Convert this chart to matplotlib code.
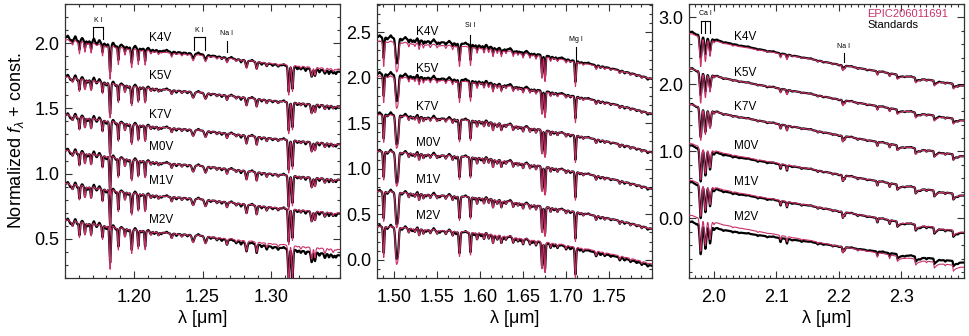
import numpy as np
import matplotlib
matplotlib.use("Agg")
import matplotlib.pyplot as plt
from matplotlib.ticker import MultipleLocator, FixedLocator

plt.rcParams['font.family'] = ['Liberation Sans', 'DejaVu Sans']
plt.rcParams['mathtext.fontset'] = 'custom'
plt.rcParams['mathtext.rm'] = 'Liberation Sans'
plt.rcParams['mathtext.it'] = 'Liberation Sans:italic'

SPT = ["K4V", "K5V", "K7V", "M0V", "M1V", "M2V"]
TARGET = "EPIC206011691"
STD_NAME = "Standards"
RED = "#c8306a"

# ---- J band ----
J_RANGE = (1.15, 1.35)
J_YLIM = (0.2, 2.3)
J_XTICKS = [1.20, 1.25, 1.30]
J_CONT_WL = [1.15, 1.175, 1.20, 1.225, 1.25, 1.275, 1.30, 1.325, 1.35]
J_CONT = [0.0, -0.04, -0.075, -0.10, -0.12, -0.15, -0.18, -0.205, -0.225]
J_LEVEL = [2.025, 1.74, 1.45, 1.178, 0.923, 0.643]
J_DIFF = [[0.02, 0.01, -0.02], [0.005, 0.0, 0.0], [0.0, 0.0, 0.0],
          [0.0, 0.0, 0.0], [0.0, 0.0, -0.005], [0.0, 0.0, -0.045]]
J_LINE_WL = [1.1555, 1.1605, 1.1645, 1.1690, 1.1773, 1.1828, 1.1888, 1.1936, 1.1985,
             1.2033, 1.2083, 1.2125, 1.2180, 1.2276, 1.2350, 1.2432, 1.2522, 1.2605,
             1.2678, 1.2745, 1.2820, 1.2894, 1.2967, 1.3050, 1.3127, 1.3154, 1.3215,
             1.3294, 1.3318, 1.3390, 1.3450]
J_LINE_DEPTH = [0.03, 0.09, 0.07, 0.07, 0.08, 0.25, 0.13, 0.05, 0.14,
                0.11, 0.11, 0.02, 0.02, 0.03, 0.015, 0.045, 0.045, 0.015,
                0.035, 0.015, 0.06, 0.06, 0.025, 0.015, 0.23, 0.20, 0.015,
                0.07, 0.06, 0.03, 0.02]
J_LINE_SIG = [0.0005, 0.0004, 0.0004, 0.0004, 0.0004, 0.0005, 0.0004, 0.0004, 0.0005,
              0.0004, 0.0004, 0.0005, 0.0005, 0.0005, 0.0005, 0.0008, 0.0008, 0.0005,
              0.0005, 0.0005, 0.0006, 0.0005, 0.0005, 0.0005, 0.0005, 0.0005, 0.0005,
              0.0006, 0.0005, 0.0006, 0.0006]
J_TEX_WL = [1.1520, 1.1540, 1.1575, 1.1590, 1.1625, 1.1665, 1.1710, 1.1730, 1.1750,
            1.1800, 1.1850, 1.1870, 1.1910, 1.1960, 1.2010, 1.2055, 1.2105, 1.2150,
            1.2200, 1.2240, 1.2310, 1.2390, 1.2470, 1.2560, 1.2640, 1.2710, 1.2780,
            1.2860, 1.2930, 1.3010, 1.3090, 1.3190, 1.3250, 1.3350, 1.3420, 1.3470]
J_TEX_DEPTH = [-0.015, 0.02, -0.02, 0.015, -0.015, 0.02, -0.025, 0.015, -0.02,
               0.02, -0.015, 0.015, -0.01, 0.015, -0.015, 0.012, -0.01, 0.015,
               0.012, -0.01, 0.015, 0.012, -0.01, 0.012, 0.015, -0.01, 0.02,
               -0.01, 0.015, 0.012, -0.01, 0.015, 0.02, 0.02, 0.025, 0.02]
J_RED_SCALE = [1.0, 1.05, 1.1, 1.15, 1.2, 1.3]
J_STD_SCALE = [0.85, 0.9, 0.9, 0.9, 0.9, 0.85]
J_LABEL_X = 1.211
J_LABEL_Y = [2.038, 1.745, 1.452, 1.204, 0.941, 0.648]

# ---- H band ----
H_RANGE = (1.48, 1.80)
H_YLIM = (-0.2, 2.81)
H_XTICKS = [1.50, 1.55, 1.60, 1.65, 1.70, 1.75]
H_CONT_WL = [1.48, 1.50, 1.52, 1.54, 1.56, 1.58, 1.60, 1.62, 1.64,
             1.66, 1.68, 1.70, 1.72, 1.74, 1.76, 1.78, 1.80]
H_CONT = [0.0, -0.005, -0.02, -0.035, -0.045, -0.055, -0.07, -0.09, -0.115,
          -0.145, -0.175, -0.205, -0.24, -0.275, -0.315, -0.36, -0.41]
H_LEVEL = [2.397, 2.013, 1.59, 1.189, 0.749, 0.364]
H_DIFF = [[0.05, 0.02, 0.0], [0.03, 0.01, 0.0], [0.01, 0.0, 0.0],
          [0.0, 0.0, 0.0], [0.0, 0.0, 0.0], [0.0, -0.01, -0.02]]
H_LINE_WL = [1.4878, 1.5025, 1.5045, 1.5170, 1.5240, 1.5290, 1.5340, 1.5420, 1.5500,
             1.5600, 1.5680, 1.5760, 1.5888, 1.5965, 1.6045, 1.6100, 1.6150, 1.6200,
             1.6247, 1.6300, 1.6385, 1.6440, 1.6500, 1.6580, 1.6650, 1.6720, 1.6755,
             1.6820, 1.6900, 1.7000, 1.7109, 1.7200, 1.7350, 1.7450, 1.7625, 1.7750,
             1.7880]
H_LINE_DEPTH = [0.27, 0.30, 0.22, 0.04, 0.03, 0.06, 0.04, 0.03, 0.03,
                0.03, 0.04, 0.22, 0.20, 0.06, 0.05, 0.04, 0.08, 0.04,
                0.07, 0.03, 0.05, 0.03, 0.05, 0.04, 0.04, 0.24, 0.27,
                0.04, 0.03, 0.03, 0.27, 0.02, 0.04, 0.02, 0.03, 0.02,
                0.02]
H_LINE_SIG = [0.0007, 0.0011, 0.0009, 0.0007, 0.0007, 0.0007, 0.0007, 0.0007, 0.0007,
              0.0007, 0.0007, 0.0008, 0.0007, 0.0007, 0.0007, 0.0007, 0.0007, 0.0007,
              0.0007, 0.0007, 0.0007, 0.0007, 0.0007, 0.0007, 0.0007, 0.0007, 0.0007,
              0.0007, 0.0007, 0.0007, 0.0007, 0.0007, 0.0008, 0.0007, 0.0008, 0.0007,
              0.0007]
H_TEX_WL = [1.4830, 1.4920, 1.4960, 1.5090, 1.5130, 1.5210, 1.5270, 1.5370, 1.5460,
            1.5530, 1.5640, 1.5720, 1.5830, 1.5930, 1.6010, 1.6070, 1.6180, 1.6270,
            1.6350, 1.6410, 1.6470, 1.6540, 1.6610, 1.6860, 1.6950, 1.7050, 1.7160,
            1.7260, 1.7400, 1.7520, 1.7680, 1.7820, 1.7950]
H_TEX_DEPTH = [-0.02, 0.02, -0.025, 0.02, -0.02, 0.025, -0.02, 0.02, -0.025,
               0.02, -0.02, 0.025, -0.015, 0.02, 0.025, -0.015, 0.02, 0.025,
               -0.015, 0.02, 0.02, -0.015, 0.02, 0.02, -0.01, 0.02, 0.015,
               -0.01, 0.02, 0.015, 0.02, 0.015, 0.02]
H_RED_SCALE = [1.0, 1.05, 1.1, 1.15, 1.2, 1.25]
H_STD_SCALE = [0.85, 0.85, 0.9, 0.9, 0.9, 0.85]
H_LABEL_X = 1.525
H_LABEL_Y = [2.5, 2.093, 1.676, 1.28, 0.877, 0.482]

# ---- K band ----
K_RANGE = (1.96, 2.40)
K_YLIM = (-0.89, 3.2)
K_XTICKS = [2.0, 2.1, 2.2, 2.3]
K_CONT_WL = [1.96, 1.98, 2.00, 2.02, 2.05, 2.08, 2.11, 2.15, 2.20, 2.25, 2.30, 2.35, 2.40]
K_CONT = [0.0, -0.05, -0.11, -0.155, -0.21, -0.26, -0.31, -0.375, -0.465,
          -0.545, -0.625, -0.70, -0.775]
K_LEVEL = [2.76, 2.24, 1.706, 1.12, 0.572, 0.05]
K_DIFF = [[0.025, 0.0, 0.0], [0.0, 0.0, 0.0], [0.0, 0.0, 0.0],
          [-0.03, 0.0, 0.0], [-0.03, 0.0, -0.01], [-0.1, -0.01, 0.07]]
K_LINE_WL = [1.9787, 1.9862, 1.9936, 2.0000, 2.0300, 2.0700, 2.1065, 2.1167, 2.1400,
             2.1660, 2.1900, 2.2062, 2.2090, 2.2300, 2.2614, 2.2810, 2.3400, 2.3700]
K_LINE_DEPTH = [0.45, 0.35, 0.25, 0.03, 0.015, 0.015, 0.06, 0.07, 0.015,
                0.02, 0.015, 0.08, 0.05, 0.02, 0.06, 0.05, 0.02, 0.02]
K_LINE_SIG = [0.0015, 0.0015, 0.0015, 0.0009, 0.0009, 0.0009, 0.0009, 0.0009, 0.0009,
              0.0009, 0.0009, 0.0009, 0.0009, 0.0009, 0.0009, 0.0009, 0.0009, 0.0009]
K_TEX_WL = [1.9650, 1.9720, 2.0050, 2.0150, 2.0400, 2.0550, 2.0850, 2.0950, 2.1250,
            2.1550, 2.1750, 2.2000, 2.2200, 2.2450, 2.2700, 2.3050, 2.3150, 2.3300,
            2.3600, 2.3900]
K_TEX_DEPTH = [-0.015, 0.015, -0.01, 0.015, 0.01, -0.01, 0.015, -0.01, 0.012,
               -0.01, 0.012, 0.01, -0.01, 0.012, -0.01, 0.012, -0.01, 0.015,
               -0.012, 0.015]
K_BAND_WL = [2.2935, 2.3227, 2.3525, 2.3830]
K_BAND_DEPTH = [0.07, 0.08, 0.08, 0.08]
K_BAND_TAIL = 0.006
K_RED_SCALE = [1.0, 1.05, 1.1, 1.1, 1.1, 1.1]
K_STD_SCALE = [0.75, 0.75, 0.9, 1.0, 1.0, 0.9]
K_LABEL_X = 2.032
K_LABEL_Y = [2.70, 2.174, 1.657, 1.08, 0.547, 0.025]

# feature annotations: (label, wavelengths, bottom, top, text y)
J_ANN = [("K I", [1.1701, 1.1779], 2.03, 2.127, 2.15),
         ("K I", [1.2438, 1.2518], 1.949, 2.046, 2.068),
         ("Na I", [1.2678], 1.929, 2.02, 2.045)]
H_ANN = [("Si I", [1.588], 2.35, 2.47, 2.535),
         ("Mg I", [1.711], 2.196, 2.335, 2.38)]
K_ANN = [("Ca I", [1.9787, 1.9862, 1.9936], 2.76, 2.95, 3.0),
         ("Na I", [2.2076], 2.338, 2.463, 2.51)]


def spectrum(wl, cont_wl, cont, lwl, ldep, lsig, scale, band_wl=(), band_dep=(), tail=0.0):
    f = np.interp(wl, cont_wl, cont)
    for w0, d, s in zip(lwl, ldep, lsig):
        f = f - scale * d * np.exp(-0.5 * ((wl - w0) / s) ** 2)
    for w0, d in zip(band_wl, band_dep):
        prof = np.where(wl >= w0, np.exp(-(wl - w0) / tail), np.exp(-0.5 * ((wl - w0) / 0.0006) ** 2))
        f = f - scale * d * prof
    return f


def texture(wl, twl, tdep, sig):
    f = np.zeros_like(wl)
    for w0, d in zip(twl, tdep):
        f = f - d * np.exp(-0.5 * ((wl - w0) / sig) ** 2)
    return f


fig = plt.figure(figsize=(9.69, 3.36), dpi=100)
lefts = [65 / 969, 377 / 969, 689 / 969]
bottom = 58 / 336
width = 275 / 969
height = 274 / 336

panels = [
    dict(rng=J_RANGE, ylim=J_YLIM, xt=J_XTICKS, cwl=J_CONT_WL, cont=J_CONT, level=J_LEVEL, diff=J_DIFF,
         lwl=J_LINE_WL, ldep=J_LINE_DEPTH, lsig=J_LINE_SIG, rs=J_RED_SCALE, ss=J_STD_SCALE,
         twl=J_TEX_WL, tdep=J_TEX_DEPTH, tsig=0.0005,
         lx=J_LABEL_X, ly=J_LABEL_Y, ann=J_ANN, xmin=0.01, ymaj=0.5, ymin=0.1, fmt="%.2f"),
    dict(rng=H_RANGE, ylim=H_YLIM, xt=H_XTICKS, cwl=H_CONT_WL, cont=H_CONT, level=H_LEVEL, diff=H_DIFF,
         lwl=H_LINE_WL, ldep=H_LINE_DEPTH, lsig=H_LINE_SIG, rs=H_RED_SCALE, ss=H_STD_SCALE,
         twl=H_TEX_WL, tdep=H_TEX_DEPTH, tsig=0.0008,
         lx=H_LABEL_X, ly=H_LABEL_Y, ann=H_ANN, xmin=0.0125, ymaj=0.5, ymin=0.1, fmt="%.2f"),
    dict(rng=K_RANGE, ylim=K_YLIM, xt=K_XTICKS, cwl=K_CONT_WL, cont=K_CONT, level=K_LEVEL, diff=K_DIFF,
         lwl=K_LINE_WL, ldep=K_LINE_DEPTH, lsig=K_LINE_SIG, rs=K_RED_SCALE, ss=K_STD_SCALE,
         twl=K_TEX_WL, tdep=K_TEX_DEPTH, tsig=0.0012,
         lx=K_LABEL_X, ly=K_LABEL_Y, ann=K_ANN, xmin=0.01, ymaj=1.0, ymin=0.2, fmt="%.1f",
         bwl=K_BAND_WL, bdep=K_BAND_DEPTH, tail=K_BAND_TAIL),
]

for i, p in enumerate(panels):
    ax = fig.add_axes([lefts[i], bottom, width, height])
    lo, hi = p["rng"]
    wl = np.arange(lo, hi + 0.0001, 0.0001)
    tex = texture(wl, p["twl"], p["tdep"], p["tsig"])
    for j, name in enumerate(SPT):
        red = p["level"][j] + spectrum(wl, p["cwl"], p["cont"], p["lwl"], p["ldep"], p["lsig"],
                                       p["rs"][j], p.get("bwl", ()), p.get("bdep", ()), p.get("tail", 0.0))
        dif = np.interp(wl, [lo, (lo + hi) / 2, hi], p["diff"][j])
        std = p["level"][j] + dif + tex + spectrum(wl, p["cwl"], p["cont"], p["lwl"], p["ldep"], p["lsig"],
                                                   p["rs"][j] * p["ss"][j], p.get("bwl", ()),
                                                   p.get("bdep", ()), p.get("tail", 0.0))
        ax.plot(wl, std, color="black", lw=1.6, zorder=2)
        ax.plot(wl, red + 0.4 * tex, color=RED, lw=0.8, zorder=3)
        ax.text(p["lx"], p["ly"][j], name, fontsize=8.5, ha="left", va="center", zorder=4)
    for label, wls, yb, yt, yl in p["ann"]:
        if len(wls) > 1:
            ax.plot([wls[0], wls[-1]], [yt, yt], color="black", lw=0.8)
        for w in wls:
            ax.plot([w, w], [yb, yt], color="black", lw=0.8)
        ax.text(np.mean(wls), yl, label, fontsize=5, ha="center", va="bottom")
    ax.set_xlim(lo, hi)
    ax.set_ylim(*p["ylim"])
    ax.xaxis.set_major_locator(FixedLocator(p["xt"]))
    ax.xaxis.set_minor_locator(MultipleLocator(p["xmin"]))
    ax.yaxis.set_major_locator(MultipleLocator(p["ymaj"]))
    ax.yaxis.set_minor_locator(MultipleLocator(p["ymin"]))
    ax.xaxis.set_major_formatter(plt.FormatStrFormatter(p["fmt"]))
    ax.yaxis.set_major_formatter(plt.FormatStrFormatter("%.1f"))
    ax.tick_params(which="both", direction="in", top=True, right=True, labelsize=13, width=0.8, color="#333333")
    ax.tick_params(which="major", length=5)
    ax.tick_params(which="minor", length=2.5)
    ax.tick_params(axis="x", pad=8)
    ax.tick_params(axis="y", pad=4)
    for s in ax.spines.values():
        s.set_linewidth(0.9)
        s.set_color("#333333")
    ax.set_xlabel("λ [μm]", fontsize=13, labelpad=3)
    if i == 0:
        ax.set_ylabel(r"Normalized $f_\lambda$ + const.", fontsize=13, labelpad=6)
    if i == 2:
        ax.text(0.649, 0.965, TARGET, color=RED, fontsize=8, transform=ax.transAxes, ha="left", va="center")
        ax.text(0.649, 0.925, STD_NAME, color="black", fontsize=8, transform=ax.transAxes, ha="left", va="center")

fig.savefig("out.png", dpi=100)
